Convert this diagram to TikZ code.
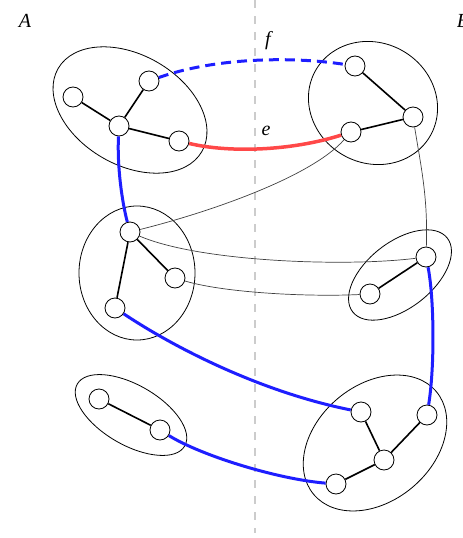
\documentclass[tikz,border=0pt]{standalone}
\usepackage{fontspec}
\setmainfont{Liberation Serif}
\begin{document}
\begin{tikzpicture}[x=1pt,y=-1pt,
  vtx/.style={circle,draw,fill=white,minimum size=20pt,inner sep=0pt,line width=0.8pt},
  blob/.style={draw,line width=0.8pt},
  tree/.style={line width=1.6pt},
  thin/.style={line width=0.7pt,black!75},
  bluel/.style={line width=3pt,draw={rgb,255:red,30;green,30;blue,255}},
  redl/.style={line width=3.5pt,draw={rgb,255:red,255;green,72;blue,72}},
  lbl/.style={font=\fontsize{20}{24}\selectfont\itshape,inner sep=0pt},
  divider/.style={line width=1.5pt,black!20,dash pattern=on 8pt off 8pt}]
\clip (0,0) rectangle (463,538);
\draw[divider] (255,0) -- (255,533);
% blobs
\draw[blob,rotate around={-30:(130,110)}] (130,110) ellipse (83pt and 55pt);
\draw[blob,rotate around={-30:(373,103)}] (373,103) ellipse (66pt and 60pt);
\draw[blob] (137,273) ellipse (58pt and 67pt);
\draw[blob,rotate around={38:(400,275)}] (400,275) ellipse (60pt and 33pt);
\draw[blob,rotate around={-30:(131,415)}] (131,415) ellipse (62pt and 30pt);
\draw[blob,rotate around={40:(375,443)}] (375,443) ellipse (80pt and 58pt);
% vertices
\node[vtx] (a1) at (73,97) {};
\node[vtx] (a2) at (149,81) {};
\node[vtx] (a3) at (119,126) {};
\node[vtx] (a4) at (179,141) {};
\node[vtx] (b1) at (355,66) {};
\node[vtx] (b2) at (413,117) {};
\node[vtx] (b3) at (351,132) {};
\node[vtx] (c1) at (130,232) {};
\node[vtx] (c2) at (175,278) {};
\node[vtx] (c3) at (115,308) {};
\node[vtx] (d1) at (426,257) {};
\node[vtx] (d2) at (370,294) {};
\node[vtx] (e1) at (99,399) {};
\node[vtx] (e2) at (160,430) {};
\node[vtx] (f1) at (361,412) {};
\node[vtx] (f2) at (427,415) {};
\node[vtx] (f3) at (384,460) {};
\node[vtx] (f4) at (336,484) {};
% tree edges
\draw[tree] (a1) -- (a3) (a2) -- (a3) (a3) -- (a4);
\draw[tree] (b1) -- (b2) (b2) -- (b3);
\draw[tree] (c1) -- (c2) (c1) -- (c3);
\draw[tree] (d1) -- (d2);
\draw[tree] (e1) -- (e2);
\draw[tree] (f1) -- (f3) (f2) -- (f3) (f3) -- (f4);
% thin connectors
\draw[thin] (c1) .. controls +(80,-20) and +(-40,45) .. (b3);
\draw[thin] (c1) .. controls +(70,30) and +(-80,10) .. (d1);
\draw[thin] (c2) .. controls +(50,15) and +(-60,3) .. (d2);
\draw[thin] (b2) .. controls +(8,50) and +(2,-60) .. (d1);
% coloured connectors
\draw[bluel,dash pattern=on 10pt off 6pt] (a2) .. controls +(65,-23) and +(-65,-10) .. (b1);
\draw[redl] (a4) .. controls +(50,12) and +(-60,19) .. (b3);
\draw[bluel] (a3) .. controls +(-2,40) and +(-8,-30) .. (c1);
\draw[bluel] (c3) .. controls +(60,40) and +(-100,-20) .. (f1);
\draw[bluel] (e2) .. controls +(40,25) and +(-60,-5) .. (f4);
\draw[bluel] (d1) .. controls +(8,40) and +(8,-50) .. (f2);
% labels
\node[lbl] (lA) at (25,21) {A};
\node[lbl] (lB) at (463,21) {B};
\node[lbl] (lf) at (268,41) {f};
\node[lbl] (le) at (266,131) {e};
\end{tikzpicture}
\end{document}
